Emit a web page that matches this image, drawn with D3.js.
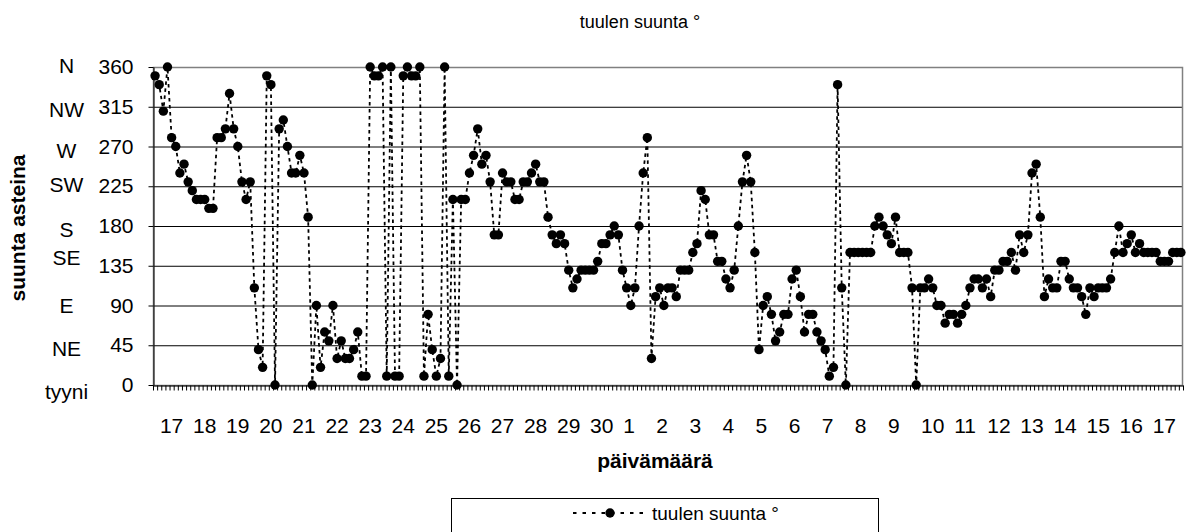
<!DOCTYPE html>
<html>
<head>
<meta charset="utf-8">
<script src="https://cdn.jsdelivr.net/npm/d3@7"></script>
<style>
  body { margin: 0; background: #fff; }
  text { font-family: "Liberation Sans", Arial, sans-serif; fill: #000; }
</style>
</head>
<body>
<div id="chart"></div>
<script>
// day labels shown on the category axis (every 8th 3-hour reading)
const days = ["17", "18", "19", "20", "21", "22", "23", "24", "25", "26", "27", "28", "29", "30",
  "1", "2", "3", "4", "5", "6", "7", "8", "9", "10", "11", "12", "13", "14", "15", "16", "17"];

// wind direction in degrees, one reading every 3 hours
const direction = [
  350, 340, 310, 360,
  280, 270, 240, 250, 230, 220, 210, 210,
  210, 200, 200, 280, 280, 290, 330, 290,
  270, 230, 210, 230, 110, 40, 20, 350,
  340, 0, 290, 300, 270, 240, 240, 260,
  240, 190, 0, 90, 20, 60, 50, 90,
  30, 50, 30, 30, 40, 60, 10, 10,
  360, 350, 350, 360, 10, 360, 10, 10,
  350, 360, 350, 350, 360, 10, 80, 40,
  10, 30, 360, 10, 210, 0, 210, 210,
  240, 260, 290, 250, 260, 230, 170, 170,
  240, 230, 230, 210, 210, 230, 230, 240,
  250, 230, 230, 190, 170, 160, 170, 160,
  130, 110, 120, 130, 130, 130, 130, 140,
  160, 160, 170, 180, 170, 130, 110, 90,
  110, 180, 240, 280, 30, 100, 110, 90,
  110, 110, 100, 130, 130, 130, 150, 160,
  220, 210, 170, 170, 140, 140, 120, 110,
  130, 180, 230, 260, 230, 150, 40, 90,
  100, 80, 50, 60, 80, 80, 120, 130,
  100, 60, 80, 80, 60, 50, 40, 10,
  20, 340, 110, 0, 150, 150, 150, 150,
  150, 150, 180, 190, 180, 170, 160, 190,
  150, 150, 150, 110, 0, 110, 110, 120,
  110, 90, 90, 70, 80, 80, 70, 80,
  90, 110, 120, 120, 110, 120, 100, 130,
  130, 140, 140, 150, 130, 170, 150, 170,
  240, 250, 190, 100, 120, 110, 110, 140,
  140, 120, 110, 110, 100, 80, 110, 100,
  110, 110, 110, 120, 150, 180, 150, 160,
  170, 150, 160, 150, 150, 150, 150, 140,
  140, 140, 150, 150, 150
];

// y axis: degrees and compass names
const degreeTicks = [0, 45, 90, 135, 180, 225, 270, 315, 360];
const compass = ["tyyni", "NE", "E", "SE", "S", "SW", "W", "NW", "N"];

const title = "tuulen suunta °";
const yTitle = "suunta asteina";
const xTitle = "päivämäärä";

// canvas
const w = 1191;
const h = 532;
const plot = { left: 153, right: 1183, top: 67, bottom: 385 };
const firstLabel = 4;
const labelEvery = 8;
// compass names sit a little off their gridline, like the original text box
const compassNudge = [6.5, 3.5, 0, -8.5, 3.5, -1.5, 4.5, 2.5, -1.5];

const svg = d3.select("#chart").append("svg")
  .attr("width", w)
  .attr("height", h);

const n = direction.length;

const x = d3.scaleBand()
  .domain(d3.range(n))
  .range([plot.left, plot.right]);

const xEdge = d3.scaleLinear()
  .domain([0, n])
  .range([plot.left, plot.right]);

const y = d3.scaleLinear()
  .domain([0, 360])
  .range([plot.bottom, plot.top]);

const cx = (i) => x(i) + x.bandwidth() / 2;

// gridlines
svg.append("g")
  .attr("transform", "translate(" + plot.left + ",0)")
  .call(d3.axisLeft(y)
    .tickValues(degreeTicks.slice(1, -1))
    .tickSize(-(plot.right - plot.left))
    .tickFormat(""))
  .call((g) => g.select(".domain").remove())
  .call((g) => g.selectAll("line").attr("stroke", "#000").attr("stroke-width", 1));

// plot area border
svg.append("rect")
  .attr("x", plot.left + 0.5)
  .attr("y", plot.top + 0.5)
  .attr("width", plot.right - plot.left - 1)
  .attr("height", plot.bottom - plot.top)
  .attr("fill", "none")
  .attr("stroke", "#808080")
  .attr("stroke-width", 1.5);

// y axis
const yAxis = svg.append("g")
  .attr("transform", "translate(" + (plot.left + 0.5) + ",0)")
  .call(d3.axisLeft(y)
    .tickValues(degreeTicks)
    .tickSize(5)
    .tickPadding(15)
    .tickSizeOuter(0));
yAxis.selectAll("text").style("font-size", "21px");
yAxis.selectAll("line, path").attr("stroke", "#000");

// compass names left of the degrees
svg.append("g")
  .selectAll("text")
  .data(degreeTicks)
  .enter()
  .append("text")
  .attr("x", 66.5)
  .attr("y", (d, i) => y(d) + compassNudge[i])
  .attr("dy", "0.35em")
  .attr("text-anchor", "middle")
  .style("font-size", "21px")
  .text((d, i) => compass[i]);

// x axis: one tick per reading
const xAxis = svg.append("g")
  .attr("transform", "translate(0," + (plot.bottom + 0.5) + ")")
  .call(d3.axisBottom(xEdge)
    .tickValues(d3.range(n + 1))
    .tickSize(5)
    .tickSizeOuter(0)
    .tickFormat(""));
xAxis.selectAll("line, path").attr("stroke", "#000");

// day labels
const labelData = days.map((d, k) => ({ day: d, idx: firstLabel + k * labelEvery }));
svg.append("g")
  .selectAll("text")
  .data(labelData)
  .enter()
  .append("text")
  .attr("x", (d) => cx(d.idx) - 11.7)
  .attr("y", 433)
  .attr("text-anchor", "start")
  .style("font-size", "21px")
  .text((d) => d.day);

// line and markers
const line = d3.line()
  .x((d, i) => cx(i))
  .y((d) => y(d));

svg.append("path")
  .datum(direction)
  .attr("d", line)
  .attr("fill", "none")
  .attr("stroke", "#000")
  .attr("stroke-width", 1.8)
  .attr("stroke-dasharray", "3.5,3.5");

svg.append("g")
  .selectAll("circle")
  .data(direction)
  .enter()
  .append("circle")
  .attr("cx", (d, i) => cx(i))
  .attr("cy", (d) => y(d))
  .attr("r", 4.7)
  .attr("fill", "#000");

// titles
svg.append("text")
  .attr("x", 640)
  .attr("y", 28)
  .attr("text-anchor", "middle")
  .style("font-size", "18px")
  .text(title);

svg.append("text")
  .attr("transform", "translate(25,228) rotate(-90)")
  .attr("text-anchor", "middle")
  .style("font-size", "21px")
  .style("font-weight", "bold")
  .text(yTitle);

svg.append("text")
  .attr("x", 655)
  .attr("y", 468)
  .attr("text-anchor", "middle")
  .style("font-size", "21px")
  .style("font-weight", "bold")
  .text(xTitle);

// legend
const legend = svg.append("g");
legend.append("rect")
  .attr("x", 451.5)
  .attr("y", 498.5)
  .attr("width", 427)
  .attr("height", 60)
  .attr("fill", "#fff")
  .attr("stroke", "#000");
legend.append("line")
  .attr("x1", 573)
  .attr("x2", 647)
  .attr("y1", 513)
  .attr("y2", 513)
  .attr("stroke", "#000")
  .attr("stroke-width", 1.8)
  .attr("stroke-dasharray", "3.5,6");
legend.append("circle")
  .attr("cx", 610)
  .attr("cy", 513)
  .attr("r", 4.7)
  .attr("fill", "#000");
legend.append("text")
  .attr("x", 652)
  .attr("y", 520)
  .style("font-size", "19px")
  .text(title);
</script>
</body>
</html>
